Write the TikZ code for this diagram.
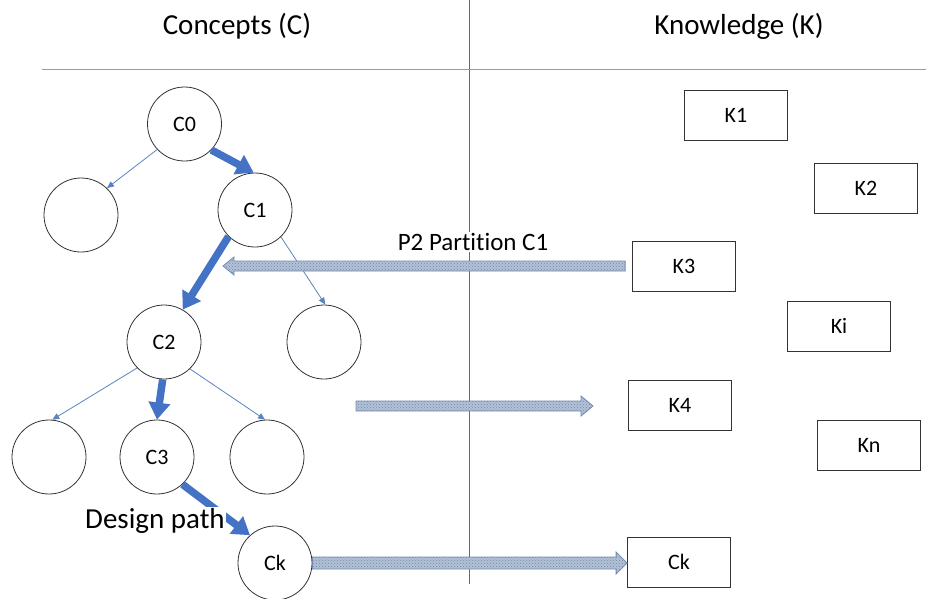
\documentclass[tikz,border=0pt]{standalone}
\usepackage{fontspec}
\setmainfont{Carlito}[Ligatures=NoCommon]
\usetikzlibrary{arrows.meta,calc,patterns}
\definecolor{pathblue}{HTML}{4472C4}
\definecolor{linkblue}{HTML}{5B83BD}
\definecolor{divgray}{HTML}{6A6A6A}
\definecolor{rulegray}{HTML}{8A9FBD}
\definecolor{hatchfill}{HTML}{B3C1D6}
\definecolor{hatchdots}{HTML}{7489A9}
\definecolor{hatchedge}{HTML}{6F8BB3}

% broad hatched arrow: #1 start, #2 tip, #3 body half-height, #4 head half-height, #5 signed head length
\newcommand{\broadarrow}[5]{%
  \path[broad] ($(#1)+(0,-#3)$) -- ($(#2)+(#5,-#3)$) -- ($(#2)+(#5,-#4)$) -- (#2)
    -- ($(#2)+(#5,#4)$) -- ($(#2)+(#5,#3)$) -- ($(#1)+(0,#3)$) -- cycle;}

\begin{document}
\begin{tikzpicture}[x=1pt,y=-1pt,
  concept/.style={circle,draw=black!80,line width=0.8pt,minimum size=74pt,inner sep=0pt,
    font=\fontsize{22}{25}\selectfont},
  know/.style={rectangle,draw=black!80,line width=0.8pt,minimum width=103pt,minimum height=50pt,
    inner sep=0pt,font=\fontsize{22}{25}\selectfont},
  header/.style={anchor=base,font=\fontsize{29}{34}\selectfont},
  pathlink/.style={draw=pathblue,line width=7.5pt,-{Triangle[length=17pt,width=21pt]}},
  sidelink/.style={draw=linkblue,line width=0.8pt,-{Triangle[length=7pt,width=6pt]}},
  broad/.style={draw=hatchedge,line width=0.8pt,fill=hatchfill,
    postaction={pattern=crosshatch dots,pattern color=hatchdots}},
]
\useasboundingbox (0,0) rectangle (926,598);

% headers and dividing rules
\node[header] (hc) at (237,34) {Concepts (C)};
\node[header] (hk) at (739,34) {Knowledge (K)};
\coordinate (vtop) at (469,0);
\coordinate (vbot) at (469,584);
\coordinate (hl) at (42,69);
\coordinate (hr) at (926,69);
\draw[divgray,line width=1pt] (vtop) -- (vbot);
\draw[rulegray,line width=1pt] (hl) -- (hr);

% concept tree
\node[concept] (C0) at (184.5,124) {C0};
\node[concept] (L1) at (81,215) {};
\node[concept] (C1) at (255,210) {C1};
\node[concept] (C2) at (164,342) {C2};
\node[concept] (R1) at (324,342) {};
\node[concept] (L2) at (49,457) {};
\node[concept] (C3) at (157,457) {C3};
\node[concept] (R2) at (267,457) {};
\node[concept] (Ck) at (275,563) {Ck};

% knowledge boxes
\node[know] (K1) at (736,115) {K1};
\node[know] (K2) at (866,188) {K2};
\node[know] (K3) at (684,266) {K3};
\node[know] (Ki) at (839,326) {Ki};
\node[know] (K4) at (680,405) {K4};
\node[know] (Kn) at (869,445) {Kn};
\node[know] (KCk) at (679,562) {Ck};

% side branches
\draw[sidelink] (C0.-137) -- (L1.46);
\draw[sidelink] (C1.-46) -- (R1.88);
\draw[sidelink] (C2.-136) -- (L2.85);
\draw[sidelink] (C2.-46) -- (R2.93);

% design path
\draw[pathlink] (C0.-44) -- (C1.92);
\draw[pathlink] (C1.-135) -- (C2.60);
\draw[pathlink] (C2.-92) -- (C3.90);
\draw[pathlink] (C3.-47) -- (Ck.132);
\node[fill=white,inner sep=1pt,anchor=base west,font=\fontsize{29}{34}\selectfont] (dp) at (84,528) {Design path};

% broad arrows between the two spaces
\coordinate (pfrom) at ([xshift=-7pt]K3.west);
\coordinate (pto) at (223,266);
\broadarrow{pfrom}{pto}{5}{9}{11}
\node[fill=white,inner sep=1pt,font=\fontsize{25}{30}\selectfont] (plabel) at (473,242) {P2 Partition C1};

\coordinate (mfrom) at (356,406);
\coordinate (mto) at (593,406);
\broadarrow{mfrom}{mto}{5}{10}{-12}

\coordinate (kto) at (KCk.west |- Ck.east);
\broadarrow{Ck.east}{kto}{6}{11}{-11}
\end{tikzpicture}
\end{document}
